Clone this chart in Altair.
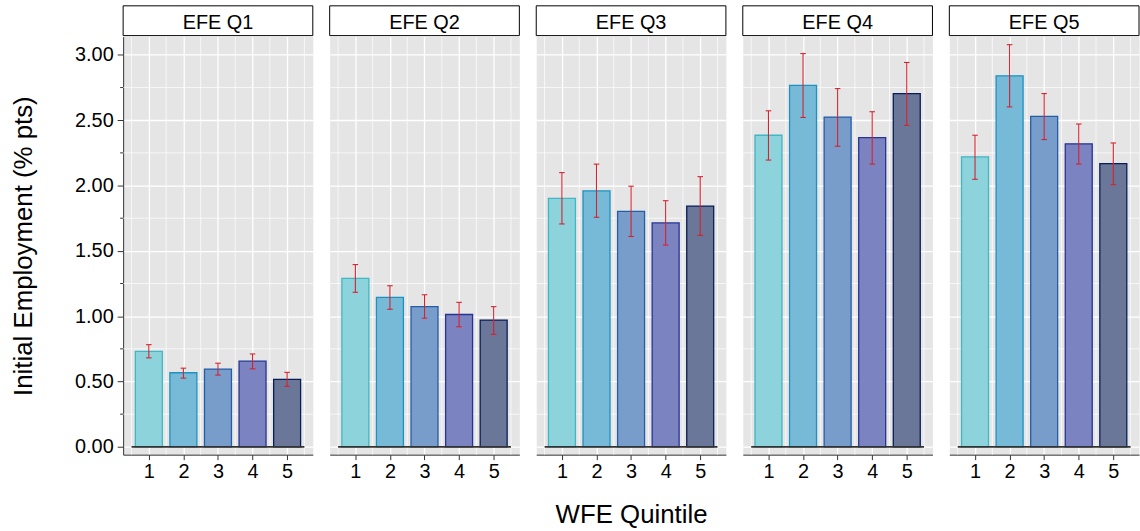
import altair as alt
import pandas as pd

# ---------------- data ----------------
panels = ["EFE Q1", "EFE Q2", "EFE Q3", "EFE Q4", "EFE Q5"]
quintiles = [1, 2, 3, 4, 5]

q1_val = [0.731, 0.567, 0.595, 0.656, 0.516]
q1_hi = [0.782, 0.602, 0.640, 0.711, 0.570]
q1_lo = [0.681, 0.526, 0.549, 0.597, 0.463]

q2_val = [1.289, 1.144, 1.073, 1.013, 0.970]
q2_hi = [1.395, 1.233, 1.164, 1.106, 1.073]
q2_lo = [1.183, 1.053, 0.985, 0.919, 0.861]

q3_val = [1.901, 1.959, 1.802, 1.714, 1.843]
q3_hi = [2.099, 2.164, 1.995, 1.884, 2.068]
q3_lo = [1.706, 1.757, 1.610, 1.544, 1.618]

q4_val = [2.385, 2.767, 2.524, 2.367, 2.704]
q4_hi = [2.572, 3.010, 2.742, 2.565, 2.942]
q4_lo = [2.195, 2.521, 2.301, 2.164, 2.461]

q5_val = [2.220, 2.840, 2.529, 2.319, 2.167]
q5_hi = [2.385, 3.078, 2.704, 2.471, 2.326]
q5_lo = [2.048, 2.602, 2.352, 2.164, 2.007]

vals = [q1_val, q2_val, q3_val, q4_val, q5_val]
his = [q1_hi, q2_hi, q3_hi, q4_hi, q5_hi]
los = [q1_lo, q2_lo, q3_lo, q4_lo, q5_lo]

y_major = [0.0, 0.5, 1.0, 1.5, 2.0, 2.5, 3.0]
y_minor = [0.25, 0.75, 1.25, 1.75, 2.25, 2.75]
x_minor = [0.5, 1.5, 2.5, 3.5, 4.5, 5.5]

fills = ["#8DD3DC", "#76BAD8", "#789DCB", "#7B83C1", "#6A7798"]
strokes = ["#41B6C4", "#1D91C0", "#225EA8", "#253494", "#081D58"]

# ---------------- layout ----------------
W = 191
H = 421
FONT = "Liberation Sans"
BG = "#E5E5E5"
RED = "#D7222E"
DARK = "#333333"

xscale = alt.Scale(domain=[0.257, 5.743], nice=False, zero=False)
yscale = alt.Scale(domain=[-0.06, 3.14], nice=False, zero=False)
qdom = [str(q) for q in quintiles]


def make_panel(i):
    df = pd.DataFrame({
        "q": quintiles,
        "qs": qdom,
        "v": vals[i],
        "lo": los[i],
        "hi": his[i],
    })
    hdr = pd.DataFrame({"panel": [panels[i]]})
    gx = pd.DataFrame({"gx": x_minor})
    gy = pd.DataFrame({"gy": y_minor})

    if i == 2:
        xaxis = alt.Axis(values=quintiles, format="d", grid=True, gridColor="white",
                         gridWidth=1.3, domainColor=DARK, tickColor=DARK, tickSize=5,
                         labelPadding=2, labelFontSize=20, labelColor="black",
                         title="WFE Quintile", titleFontSize=26, titleFontWeight="normal",
                         titleColor="black", titlePadding=20)
    else:
        xaxis = alt.Axis(values=quintiles, format="d", grid=True, gridColor="white",
                         gridWidth=1.3, domainColor=DARK, tickColor=DARK, tickSize=5,
                         labelPadding=2, labelFontSize=20, labelColor="black", title=None)

    if i == 0:
        yaxis = alt.Axis(values=y_major, format=".2f", grid=True, gridColor="white",
                         gridWidth=1.3, domainColor=DARK, tickColor=DARK, tickSize=6,
                         labelPadding=4, labelFontSize=20, labelColor="black",
                         title="Initial Employment (% pts)", titleFontSize=26,
                         titleFontWeight="normal", titleColor="black", titlePadding=38)
    else:
        yaxis = alt.Axis(values=y_major, grid=True, gridColor="white", gridWidth=1.3,
                         labels=False, ticks=False, domain=False, title=None)

    grid_x = alt.Chart(gx).mark_rule(color="white", strokeWidth=0.7).encode(
        x=alt.X("gx:Q", scale=xscale, axis=xaxis),
        y=alt.value(0), y2=alt.value(H),
    )
    grid_y = alt.Chart(gy).mark_rule(color="white", strokeWidth=0.7).encode(
        y=alt.Y("gy:Q", scale=yscale, axis=yaxis),
        x=alt.value(0), x2=alt.value(W),
    )

    base = alt.Chart(df).transform_calculate(
        x0="datum.q - 0.39", x1="datum.q + 0.39",
        c0="datum.q - 0.08", c1="datum.q + 0.08",
    )
    bars = base.mark_bar(strokeWidth=1.3).encode(
        x=alt.X("x0:Q", scale=xscale),
        x2="x1:Q",
        y=alt.Y("v:Q", scale=yscale),
        y2=alt.datum(0),
        fill=alt.Fill("qs:N", scale=alt.Scale(domain=qdom, range=fills), legend=None),
        stroke=alt.Stroke("qs:N", scale=alt.Scale(domain=qdom, range=strokes), legend=None),
    )
    baseline = alt.Chart(hdr).mark_rule(color=DARK, strokeWidth=1.8).encode(
        x=alt.datum(0.5, scale=xscale), x2=alt.datum(5.5), y=alt.datum(0, scale=yscale),
    )
    err = base.mark_rule(color=RED, strokeWidth=1.1).encode(
        x=alt.X("q:Q", scale=xscale),
        y=alt.Y("lo:Q", scale=yscale),
        y2="hi:Q",
    )
    cap_hi = base.mark_rule(color=RED, strokeWidth=1.1).encode(
        x=alt.X("c0:Q", scale=xscale), x2="c1:Q",
        y=alt.Y("hi:Q", scale=yscale),
    )
    cap_lo = base.mark_rule(color=RED, strokeWidth=1.1).encode(
        x=alt.X("c0:Q", scale=xscale), x2="c1:Q",
        y=alt.Y("lo:Q", scale=yscale),
    )
    head_box = alt.Chart(hdr).mark_rect(fill="white", stroke="black", strokeWidth=1).encode(
        x=alt.value(0), x2=alt.value(W), y=alt.value(-31), y2=alt.value(-1),
    )
    head_txt = alt.Chart(hdr).mark_text(font=FONT, fontSize=20, color="black",
                                        baseline="alphabetic", align="center").encode(
        x=alt.value(W / 2), y=alt.value(-8), text="panel:N",
    )

    layers = [grid_x, grid_y, bars, baseline, err, cap_hi, cap_lo, head_box, head_txt]
    if i == 0:
        ticks_minor = alt.Chart(gy).mark_rule(color=DARK, strokeWidth=1).encode(
            y=alt.Y("gy:Q", scale=yscale), x=alt.value(-3), x2=alt.value(0),
        )
        layers.append(ticks_minor)
    return alt.layer(*layers).properties(width=W, height=H)


chart = alt.hconcat(*[make_panel(i) for i in range(5)], spacing=15).properties(
    padding={"left": 10, "top": 3, "right": 0, "bottom": 0},
    background="white",
).configure_view(fill=BG, stroke="transparent").configure_axis(
    labelFont=FONT, titleFont=FONT,
).configure_text(font=FONT)

chart.save("out.html", embed_options={"renderer": "svg", "actions": False})
